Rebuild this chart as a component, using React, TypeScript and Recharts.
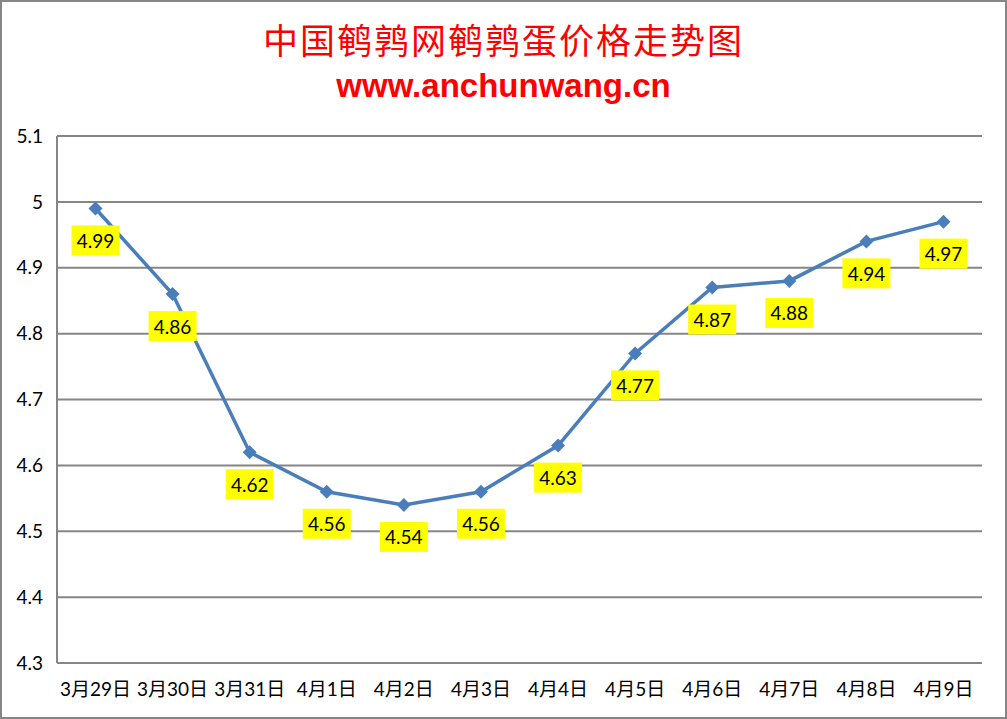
import { CartesianGrid, LabelList, Line, LineChart, XAxis, YAxis } from "recharts";

const DATES = [
  "3月29日", "3月30日", "3月31日", "4月1日", "4月2日", "4月3日",
  "4月4日", "4月5日", "4月6日", "4月7日", "4月8日", "4月9日",
];
const PRICES = [4.99, 4.86, 4.62, 4.56, 4.54, 4.56, 4.63, 4.77, 4.87, 4.88, 4.94, 4.97];
const Y_TICKS = [4.3, 4.4, 4.5, 4.6, 4.7, 4.8, 4.9, 5.0, 5.1];

const data = DATES.map((d, i) => ({ date: d, price: PRICES[i] }));

const FONT = "Lato, 'Noto Sans CJK SC', sans-serif";
const LINE = "#4A7EBB";
const GRID = "#868686";

function Diamond(props: any) {
  const { cx, cy } = props;
  if (cx == null || cy == null) return null;
  const r = 7;
  return (
    <polygon
      points={`${cx},${cy - r} ${cx + r},${cy} ${cx},${cy + r} ${cx - r},${cy}`}
      fill={LINE}
    />
  );
}

function PriceLabel(props: any) {
  const { x, y, value } = props;
  if (x == null || y == null) return null;
  const w = 48;
  const h = 30;
  const cy = y + 32;
  return (
    <g>
      <rect x={x - w / 2} y={cy - h / 2} width={w} height={h} fill="#FFFF00" />
      <text
        x={x}
        y={cy}
        textAnchor="middle"
        dominantBaseline="central"
        fontFamily={FONT}
        fontSize={19}
        fill="#000"
      >
        {value.toFixed(2)}
      </text>
    </g>
  );
}

export default function App() {
  return (
    <div
      style={{
        position: "absolute",
        left: 0,
        top: 0,
        width: 1007,
        height: 719,
        border: `2px solid ${GRID}`,
        boxSizing: "border-box",
        background: "#fff",
      }}
    >
      <div
        style={{
          position: "absolute",
          left: -2,
          top: 15,
          width: 1007,
          textAlign: "center",
          color: "#FF0000",
          fontFamily: "'Noto Sans CJK SC', sans-serif",
          fontSize: 35,
          lineHeight: "44px",
          letterSpacing: 2,
        }}
      >
        中国鹌鹑网鹌鹑蛋价格走势图
      </div>
      <div
        style={{
          position: "absolute",
          left: -2,
          top: 64,
          width: 1007,
          textAlign: "center",
          color: "#FF0000",
          fontFamily: "'Liberation Sans', Arial, sans-serif",
          fontWeight: "bold",
          fontSize: 33,
          lineHeight: "40px",
        }}
      >
        www.anchunwang.cn
      </div>
      <div style={{ position: "absolute", left: -2, top: -2 }}>
        <LineChart
          width={1007}
          height={719}
          data={data}
          margin={{ top: 136, right: 25, bottom: 0, left: 0 }}
        >
          <CartesianGrid vertical={false} stroke={GRID} strokeWidth={2} />
          <XAxis
            dataKey="date"
            height={56}
            padding={{ left: 38.5, right: 38.5 }}
            axisLine={{ stroke: GRID, strokeWidth: 2 }}
            tickLine={false}
            tickSize={0}
            tickMargin={20}
            interval={0}
            tick={{ fill: "#000", fontSize: 19, fontFamily: FONT }}
          />
          <YAxis
            width={57}
            domain={[4.3, 5.1]}
            ticks={Y_TICKS}
            interval={0}
            axisLine={{ stroke: GRID, strokeWidth: 2 }}
            tickLine={false}
            tickSize={0}
            tickMargin={14}
            tickFormatter={(v: number) => String(Number(v.toFixed(1)))}
            tick={{ fill: "#000", fontSize: 19, fontFamily: FONT }}
          />
          <Line
            dataKey="price"
            stroke={LINE}
            strokeWidth={3.5}
            dot={<Diamond />}
            activeDot={false}
            isAnimationActive={false}
          >
            <LabelList dataKey="price" content={<PriceLabel />} />
          </Line>
        </LineChart>
      </div>
    </div>
  );
}
